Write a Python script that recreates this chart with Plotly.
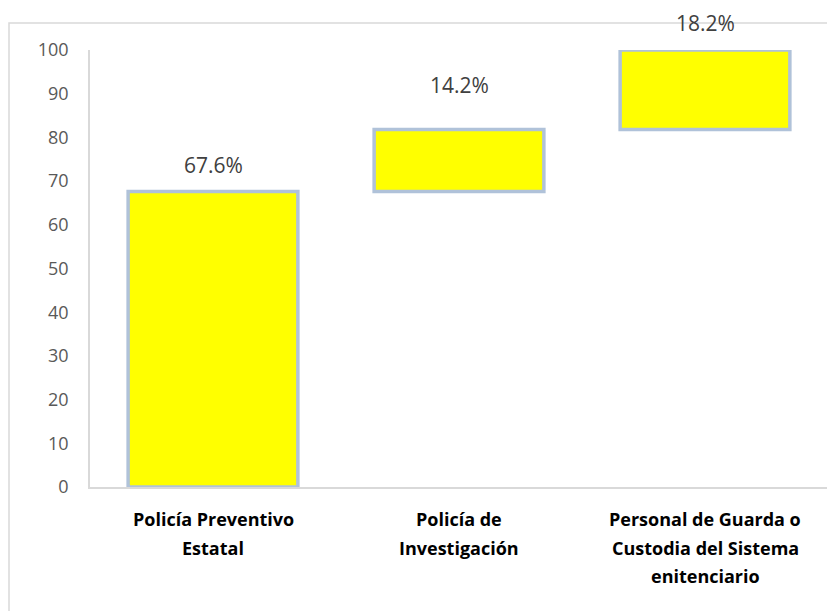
import plotly.graph_objects as go
import numpy as np

categories = ["Policía Preventivo<br>Estatal", "Policía de<br>Investigación",
              "Personal de Guarda o<br>Custodia del Sistema<br>enitenciario"]
values = [67.6, 14.2, 18.2]
labels = ["67.6%", "14.2%", "18.2%"]
label_shift = [11, 29, 11]
y_ticks = list(range(0, 101, 10))

bases = list(np.concatenate([[0], np.cumsum(values)[:-1]]))
tops = [b + v for b, v in zip(bases, values)]

fig = go.Figure()
fig.add_trace(go.Bar(
    x=categories, y=values, base=bases, width=0.69,
    marker=dict(color="#ffff00", line=dict(color="#b0c2d9", width=3.5)),
    hoverinfo="skip",
))

for c, t, lab, s in zip(categories, tops, labels, label_shift):
    fig.add_annotation(x=c, y=t, text=lab, showarrow=False, yshift=s,
                       yanchor="bottom",
                       font=dict(family="Open Sans", size=21, color="#404040"))

# category labels, one annotation per line for Excel-like line spacing
LINE_GAP = 28.5
for c in categories:
    for i, line in enumerate(c.split("<br>")):
        fig.add_annotation(x=c, y=0, text=line, showarrow=False, yanchor="top",
                           yshift=-(18 + i * LINE_GAP),
                           font=dict(family="Open Sans", size=18, color="#000000",
                                     weight="bold"))

# outer chart frame (page has an 8px body offset)
L, T, PW, PH = 82, 42, 738, 437
fig.add_shape(type="rect", xref="paper", yref="paper",
              x0=(1 - L) / PW, x1=1.05, y0=-0.4, y1=(PH + T - 15) / PH,
              line=dict(color="#d9d9d9", width=1.5), layer="below")

fig.update_layout(
    width=835, height=611,
    margin=dict(l=L, r=835 - L - PW, t=T, b=611 - T - PH),
    paper_bgcolor="white", plot_bgcolor="white",
    showlegend=False,
    xaxis=dict(showline=True, linecolor="#d9d9d9", linewidth=1.5,
               showgrid=False, ticks="", showticklabels=False),
    yaxis=dict(range=[0, 100], tickvals=y_ticks, showline=True, linecolor="#d9d9d9",
               linewidth=1.5, showgrid=False, zeroline=False, ticks="",
               ticklabelstandoff=16,
               tickfont=dict(family="Open Sans", size=18, color="#595959")),
)

fig.write_html("out.html")
